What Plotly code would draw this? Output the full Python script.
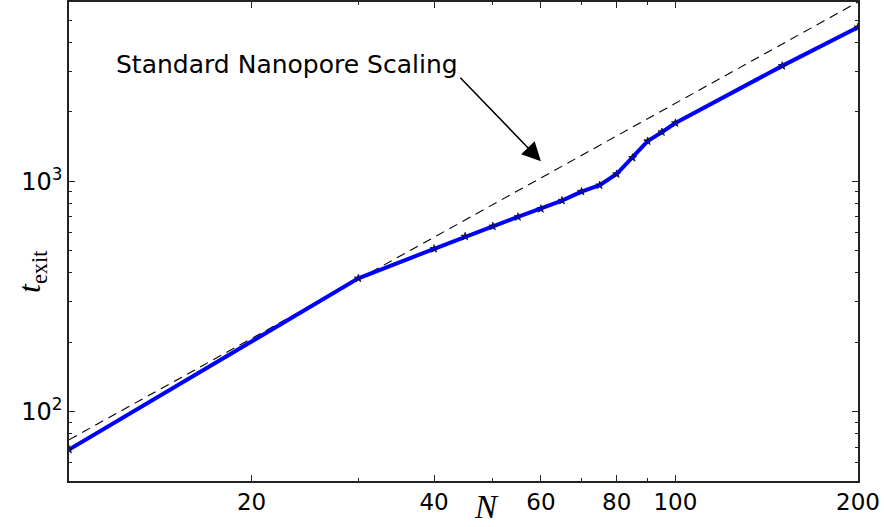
import math
import plotly.graph_objects as go

# ---- data ----
N_sim = [10, 30, 40, 45, 50, 55, 60, 65, 70, 75, 80, 85, 90, 95, 100, 150, 200]
t_sim = [68.5, 379, 509, 576, 637, 700, 759, 824, 902, 961, 1075, 1264, 1493, 1634, 1789, 3169, 4656]

N_ref = [10, 200]
t_ref = [75.5, 6000]

x_tickvals = [20, 40, 60, 80, 100, 200]
x_ticktext = ["20", "40", "60", "80", "100", "200"]
x_minor = [30, 50, 70, 90]

y_tickvals = [100, 1000]
y_ticktext = ["10<sup>2</sup>", "10<sup>3</sup>"]
y_minor = [60, 70, 80, 90, 200, 300, 400, 500, 600, 700, 800, 900, 2000, 3000, 4000, 5000]

x_range = [10, 200]
y_range = [50, 6000]

annot_text = "Standard Nanopore Scaling"
arrow_tip = (60, 1222)

fig = go.Figure()
fig.add_trace(go.Scatter(
    x=N_ref, y=t_ref, mode="lines",
    line=dict(color="black", width=1.1, dash="9px,6px"),
    showlegend=False, hoverinfo="skip"))
fig.add_trace(go.Scatter(
    x=N_sim, y=t_sim, mode="lines+markers",
    line=dict(color="#0000ff", width=4),
    marker=dict(symbol="star", size=6, color="#0000ff", line=dict(color="#111", width=0.8)),
    showlegend=False, cliponaxis=True))

tickfont = dict(family="DejaVu Sans", size=23, color="black")
axis_common = dict(
    type="log", showgrid=False, zeroline=False, showline=True,
    linecolor="#222", linewidth=1.5, mirror="allticks",
    ticks="inside", ticklen=6, tickwidth=1, tickcolor="#222",
    tickfont=tickfont, automargin=False,
)

fig.update_xaxes(
    **axis_common,
    range=[math.log10(x_range[0]), math.log10(x_range[1])],
    tickmode="array", tickvals=x_tickvals, ticktext=x_ticktext,
    minor=dict(tickmode="array", tickvals=x_minor, ticks="inside", ticklen=3,
               tickwidth=1, tickcolor="#222", showgrid=False),
)
fig.update_yaxes(
    **axis_common,
    range=[math.log10(y_range[0]), math.log10(y_range[1])],
    tickmode="array", tickvals=y_tickvals, ticktext=y_ticktext,
    tickfont_size=24,
    minor=dict(tickmode="array", tickvals=y_minor, ticks="inside", ticklen=3,
               tickwidth=1, tickcolor="#222", showgrid=False),
)

fig.add_annotation(
    xref="paper", yref="paper", x=0.2763, y=0.8685,
    text=annot_text, showarrow=False,
    font=dict(family="DejaVu Sans", size=25, color="black"),
    xanchor="center", yanchor="middle")

fig.add_annotation(
    xref="x", yref="y",
    x=math.log10(arrow_tip[0]), y=math.log10(arrow_tip[1]),
    ax=-82, ay=-85, axref="pixel", ayref="pixel",
    text="", showarrow=True, arrowhead=2, arrowsize=2.5, arrowwidth=1.5,
    arrowcolor="black", standoff=0, startstandoff=0)

# axis titles
fig.add_annotation(
    xref="paper", yref="paper", x=(486 - 69) / 789, y=-(507 - 481) / 479,
    text="<i>N</i>", showarrow=False,
    font=dict(family="Liberation Serif", size=33, color="black"),
    xanchor="center", yanchor="middle")
fig.add_annotation(
    xref="paper", yref="paper", x=-(69 - 32) / 789, y=(481 - 272) / 479,
    text="<i>t</i><sub>exit</sub>", showarrow=False, textangle=-90,
    font=dict(family="Liberation Serif", size=32, color="black"),
    xanchor="center", yanchor="middle")

fig.update_layout(
    width=884, height=527,
    margin=dict(l=69, r=26, t=2, b=46, pad=0),
    paper_bgcolor="white", plot_bgcolor="white",
    template="none",
)

fig.write_html("out.html")
